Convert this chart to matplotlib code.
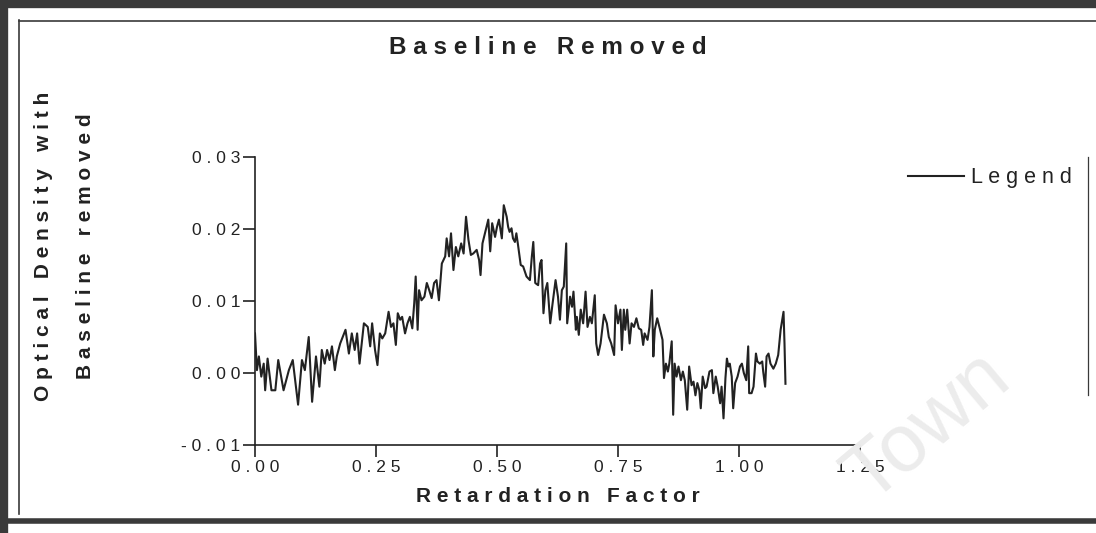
import matplotlib.pyplot as plt
from matplotlib.lines import Line2D

# trace (Rf vs optical density, baseline removed)
rf = [
    0.000, 0.004, 0.008, 0.013, 0.018, 0.021, 0.026, 0.034, 0.042, 0.048,
    0.059, 0.070, 0.078, 0.089, 0.097, 0.103, 0.111, 0.118, 0.126, 0.133,
    0.138, 0.144, 0.149, 0.154, 0.159, 0.165, 0.169, 0.176, 0.187, 0.194,
    0.200, 0.206, 0.211, 0.216, 0.225,
    0.233, 0.238, 0.242, 0.248, 0.253, 0.258, 0.263, 0.269, 0.276, 0.281,
    0.286, 0.291, 0.295, 0.300, 0.304, 0.310, 0.315, 0.320, 0.325, 0.329,
    0.332, 0.336, 0.339, 0.344, 0.350, 0.355, 0.360, 0.365, 0.370, 0.375,
    0.380, 0.386, 0.393, 0.396, 0.401, 0.405, 0.410, 0.415, 0.420, 0.426,
    0.431, 0.436, 0.441, 0.446, 0.451, 0.458, 0.463, 0.466, 0.470, 0.475,
    0.482, 0.486, 0.490, 0.496, 0.500, 0.504, 0.510, 0.514, 0.520,
    0.523, 0.526, 0.530, 0.533, 0.537, 0.540, 0.543, 0.549, 0.554, 0.561,
    0.568, 0.572, 0.575, 0.579, 0.585, 0.589, 0.592, 0.596, 0.600, 0.604,
    0.610, 0.614, 0.621, 0.626, 0.630, 0.634, 0.638, 0.643, 0.645, 0.651,
    0.655, 0.658, 0.663, 0.665, 0.669, 0.673, 0.678, 0.683, 0.687, 0.692,
    0.696, 0.702, 0.705, 0.709, 0.714, 0.721, 0.727, 0.731, 0.736, 0.742,
    0.745, 0.750, 0.755, 0.758, 0.762, 0.765, 0.769, 0.774, 0.778, 0.783,
    0.788, 0.793, 0.798, 0.802, 0.805, 0.811, 0.815,
    0.820, 0.823, 0.826, 0.831, 0.837, 0.842, 0.845, 0.849, 0.853, 0.856,
    0.861, 0.864, 0.867, 0.871, 0.875, 0.880, 0.884, 0.888, 0.893, 0.897,
    0.902, 0.906, 0.910, 0.914, 0.918, 0.921, 0.925, 0.930, 0.933, 0.939,
    0.944, 0.947, 0.952, 0.956, 0.961, 0.964, 0.968, 0.972, 0.975, 0.978,
    0.981, 0.985, 0.988, 0.992, 0.997, 1.002, 1.006, 1.010, 1.015, 1.019,
    1.021, 1.026, 1.030, 1.035, 1.038, 1.043, 1.048, 1.050, 1.054, 1.057,
    1.061, 1.065, 1.071, 1.076, 1.081, 1.086, 1.092, 1.094, 1.096,
]
od = [
    0.0055, 0.0004, 0.0023, -0.0005, 0.0013, -0.0024, 0.0020, -0.0024, -0.0024, 0.0018,
    -0.0024, 0.0004, 0.0018, -0.0044, 0.0018, 0.0004, 0.0050, -0.0040, 0.0023, -0.0019,
    0.0032, 0.0013, 0.0032, 0.0018, 0.0037, 0.0004, 0.0023, 0.0041, 0.0060, 0.0027,
    0.0055, 0.0032, 0.0055, 0.0013, 0.0069,
    0.0064, 0.0037, 0.0069, 0.0032, 0.0011, 0.0055, 0.0048, 0.0055, 0.0085, 0.0064,
    0.0069, 0.0039, 0.0083, 0.0074, 0.0078, 0.0055, 0.0069, 0.0078, 0.0062, 0.0097,
    0.0134, 0.0060, 0.0115, 0.0101, 0.0106, 0.0125, 0.0115, 0.0104, 0.0125, 0.0129,
    0.0101, 0.0152, 0.0162, 0.0187, 0.0162, 0.0194, 0.0143, 0.0175, 0.0162, 0.0180,
    0.0166, 0.0217, 0.0185, 0.0164, 0.0166, 0.0171, 0.0157, 0.0136, 0.0180, 0.0194,
    0.0213, 0.0169, 0.0208, 0.0189, 0.0203, 0.0213, 0.0187, 0.0233, 0.0217,
    0.0203, 0.0196, 0.0201, 0.0187, 0.0182, 0.0194, 0.0180, 0.0150, 0.0148, 0.0134,
    0.0129, 0.0162, 0.0182, 0.0125, 0.0122, 0.0152, 0.0157, 0.0083, 0.0115, 0.0125,
    0.0069, 0.0092, 0.0129, 0.0106, 0.0074, 0.0115, 0.0120, 0.0180, 0.0069, 0.0106,
    0.0092, 0.0113, 0.0060, 0.0078, 0.0053, 0.0088, 0.0069, 0.0113, 0.0064, 0.0078,
    0.0069, 0.0108, 0.0041, 0.0025, 0.0041, 0.0081, 0.0069, 0.0050, 0.0041, 0.0025,
    0.0094, 0.0069, 0.0088, 0.0032, 0.0088, 0.0060, 0.0088, 0.0041, 0.0069, 0.0064,
    0.0076, 0.0062, 0.0060, 0.0039, 0.0055, 0.0046, 0.0064,
    0.0115, 0.0023, 0.0060, 0.0076, 0.0060, 0.0046, -0.0007, 0.0013, 0.0002, 0.0013,
    0.0044, -0.0058, 0.0013, -0.0005, 0.0009, -0.0010, 0.0002, -0.0010, -0.0051, 0.0009,
    -0.0017, -0.0012, -0.0031, -0.0014, -0.0024, -0.0049, -0.0005, -0.0021, -0.0019, 0.0002,
    0.0004, -0.0028, -0.0005, -0.0019, -0.0042, -0.0019, -0.0063, -0.0007, 0.0020, 0.0009,
    0.0013, -0.0005, -0.0049, -0.0014, -0.0005, 0.0009, 0.0013, 0.0000, -0.0010, 0.0037,
    -0.0028, -0.0028, -0.0019, 0.0027, 0.0016, 0.0013, 0.0016, 0.0002, -0.0019, 0.0023,
    0.0027, 0.0013, 0.0006, 0.0013, 0.0025, 0.0060, 0.0085, 0.0041, -0.0015,
]

x_ticks = [0.0, 0.25, 0.5, 0.75, 1.0, 1.25]
x_tick_labels = ["0.00", "0.25", "0.50", "0.75", "1.00", "1.25"]
y_ticks = [-0.01, 0.0, 0.01, 0.02, 0.03]
y_tick_labels = ["-0.01", "0.00", "0.01", "0.02", "0.03"]

W, H = 1096, 533
INK = "#222222"
FRAME = "#3a3a3a"


def spaced(text):
    """Mimics the wide letter spacing of the original scan."""
    return " ".join(text)


def fx(px):
    return px / W


def fy(py):
    return 1 - py / H


plt.rcParams["font.family"] = ["Liberation Sans", "DejaVu Sans"]

fig = plt.figure(figsize=(W / 100, H / 100), dpi=100)
fig.patch.set_facecolor("white")

# scanned page frame: thick outer edge plus thin inner rule
for xs, ys, lw in [
    ((4, 4), (0, H), 6),
    ((0, W), (4, 4), 6),
    ((0, W), (521, 521), 4),
    ((19, 19), (20, 514), 1.2),
    ((19, W), (21, 21), 1.2),
    ((1088, 1088), (157, 395), 0.9),
]:
    fig.add_artist(Line2D([fx(x) for x in xs], [fy(y) for y in ys],
                          transform=fig.transFigure, color=FRAME, lw=lw))

# faint watermark from the scanned page
fig.text(fx(928), fy(428), "Town", rotation=40, fontsize=58, color="#ececec",
         ha="center", va="center", zorder=0)

ax = fig.add_axes([fx(255), fy(445), (860 - 255) / W, (445 - 157) / H])
ax.set_facecolor("none")
line, = ax.plot(rf, od, color=INK, lw=1.5, label="Legend")

ax.set_xlim(0, 1.25)
ax.set_ylim(-0.01, 0.03)
ax.set_xticks(x_ticks)
ax.set_xticklabels([spaced(t) for t in x_tick_labels])
ax.set_yticks(y_ticks)
ax.set_yticklabels([spaced(t) for t in y_tick_labels])
for side in ("top", "right"):
    ax.spines[side].set_visible(False)
for side in ("left", "bottom"):
    ax.spines[side].set_color(INK)
    ax.spines[side].set_linewidth(1.2)
ax.tick_params(direction="out", length=8.5, width=1.2, color=INK,
               labelsize=12.5, labelcolor=INK, pad=2)

ax.set_xlabel(spaced("Retardation Factor"), fontsize=15, fontweight="bold",
              color=INK, labelpad=9)

fig.text(0.5, fy(47), spaced("Baseline Removed"), ha="center", va="center",
         fontsize=17.5, fontweight="bold", color=INK)
fig.text(fx(44), fy(246), spaced("Optical Density with"), rotation=90,
         ha="center", va="center", fontsize=15, fontweight="bold", color=INK)
fig.text(fx(86), fy(246), spaced("Baseline removed"), rotation=90,
         ha="center", va="center", fontsize=15, fontweight="bold", color=INK)

fig.legend(handles=[line], labels=[spaced("Legend")], loc="center left",
           bbox_to_anchor=(fx(889), fy(178)), frameon=False, fontsize=15.5,
           handlelength=2.6, handletextpad=0.3, labelcolor=INK)

fig.savefig("out.png", dpi=100)
